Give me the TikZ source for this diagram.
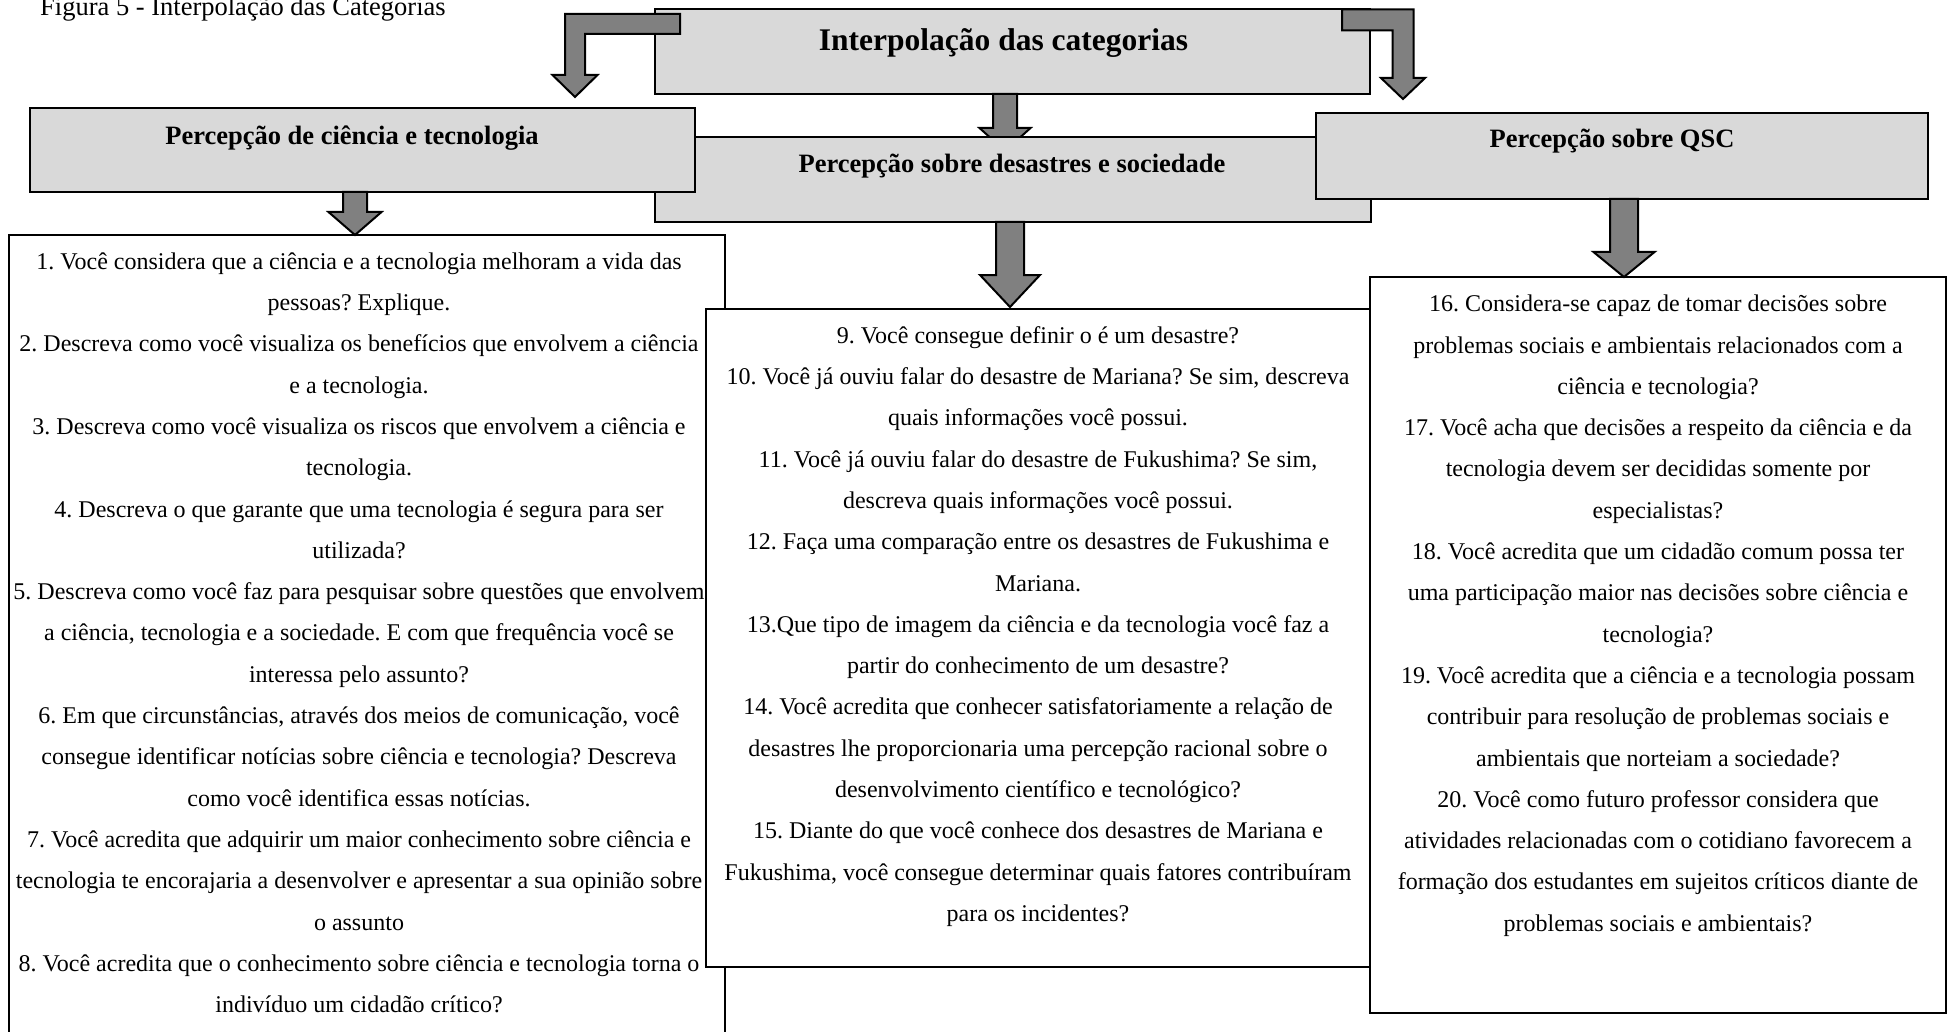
\documentclass[tikz,border=0pt]{standalone}
\usepackage{fontspec}
\setmainfont{Liberation Serif}
\usetikzlibrary{calc}
\definecolor{hdrgray}{HTML}{D9D9D9}
\definecolor{arrgray}{HTML}{808080}
\newcommand\blkdown[5]{%
  \path[blkarrow] let \p1=(#1), \p2=(#2) in
    ({\x2-#3pt},\y1) -- ({\x2+#3pt},\y1) -- ({\x2+#3pt},{\y2+#5pt}) -- ({\x2+#4pt},{\y2+#5pt})
    -- (\x2,\y2) -- ({\x2-#4pt},{\y2+#5pt}) -- ({\x2-#3pt},{\y2+#5pt}) -- cycle;}
\newcommand\blkbent[6]{%
  \path[blkarrow] let \p1=(#1), \p2=(#2) in
    (\x1,{\y1+#3pt}) -- ({\x2-(#6)*#3pt},{\y1+#3pt}) -- ({\x2-(#6)*#3pt},{\y2+#5pt}) -- ({\x2-(#6)*#4pt},{\y2+#5pt})
    -- (\x2,\y2) -- ({\x2+(#6)*#4pt},{\y2+#5pt}) -- ({\x2+(#6)*#3pt},{\y2+#5pt}) -- ({\x2+(#6)*#3pt},{\y1-#3pt})
    -- (\x1,{\y1-#3pt}) -- cycle;}
\begin{document}
\frenchspacing
\begin{tikzpicture}[x=1pt,y=-1pt,
  hdrbox/.style={draw=black, line width=2.6pt, fill=hdrgray, inner sep=0pt, outer sep=0pt},
  qbox/.style={draw=black, line width=2.6pt, fill=white, inner sep=0pt, outer sep=0pt},
  blkarrow/.style={draw=black, line width=2pt, fill=arrgray, line join=miter},
  hdrtext/.style={font=\fontsize{26.5}{30}\selectfont\bfseries, inner sep=0pt, anchor=base},
  titletext/.style={font=\fontsize{31.5}{36}\selectfont\bfseries, inner sep=0pt, anchor=base},
  captext/.style={font=\fontsize{26.5}{30}\selectfont, inner sep=0pt, anchor=base west},
  qtext/.style={font=\fontsize{24}{41.3}\selectfont\frenchspacing, align=center, inner sep=0pt, anchor=north},
]
\useasboundingbox (0,0) rectangle (1950,1032);
\clip (0,0) rectangle (1950,1032);

% top box
\node[hdrbox, minimum width=715pt, minimum height=85pt] (tb) at (1012.5,51.5) {};
% arrow top -> middle header (head partly hidden)
\coordinate (a0s) at (1005,0 |- tb.south);
\coordinate (a0t) at ($(1005,0 |- tb.south)+(0,57)$);
\blkdown{a0s}{a0t}{12}{25.5}{23}
% header row
\node[hdrbox, minimum width=716pt, minimum height=85pt] (hm) at (1013,179.5) {};
\node[hdrbox, minimum width=665pt, minimum height=84pt] (hl) at (362.5,150) {};
\node[hdrbox, minimum width=612pt, minimum height=86pt] (hr) at (1622,156) {};
% bent arrows
\coordinate (a2s) at ($(tb.north west)+(25,15)$);
\coordinate (a2t) at ($(575,0 |- hl.north)+(0,-11)$);
\blkbent{a2s}{a2t}{10}{22.5}{22}{1}
\coordinate (a3s) at ($(tb.north east)+(-28,11)$);
\coordinate (a3t) at ($(1403,0 |- hr.north)+(0,-14)$);
\blkbent{a3s}{a3t}{10.5}{22}{21}{-1}
% content boxes
\node[qbox, minimum width=716pt, minimum height=815pt] (cl) at (367,642.5) {};
\node[qbox, minimum width=665pt, minimum height=658pt] (cm) at (1038.5,638) {};
\node[qbox, minimum width=576pt, minimum height=736pt] (cr) at (1658,645) {};
% lower arrows
\coordinate (a4s) at (355,0 |- hl.south);
\coordinate (a4t) at (355,0 |- cl.north);
\blkdown{a4s}{a4t}{12}{26.5}{23}
\coordinate (a5s) at (1010,0 |- hm.south);
\coordinate (a5t) at ($(1010,0 |- cm.north)+(0,-2)$);
\blkdown{a5s}{a5t}{14}{30}{32}
\coordinate (a6s) at (1624,0 |- hr.south);
\coordinate (a6t) at (1624,0 |- cr.north);
\blkdown{a6s}{a6t}{14}{30.5}{25}

% texts
\node[captext] (cap) at (40,16) {Figura 5 - Interpolação das Categorias};
\node[titletext] (tbt) at (1003.5,51) {Interpolação das categorias};
\node[hdrtext] (hlt) at (352,145) {Percepção de ciência e tecnologia};
\node[hdrtext] (hmt) at (1012,173) {Percepção sobre desastres e sociedade};
\node[hdrtext] (hrt) at (1612,148) {Percepção sobre QSC};

\node[qtext] (clt) at (359,240.1) {\strut 1. Você considera que a ciência e a tecnologia melhoram a vida das\\
pessoas? Explique.\\
2. Descreva como você visualiza os benefícios que envolvem a ciência\\
e a tecnologia.\\
3. Descreva como você visualiza os riscos que envolvem a ciência e\\
tecnologia.\\
4. Descreva o que garante que uma tecnologia é segura para ser\\
utilizada?\\
5. Descreva como você faz para pesquisar sobre questões que envolvem\\
a ciência, tecnologia e a sociedade. E com que frequência você se\\
interessa pelo assunto?\\
6. Em que circunstâncias, através dos meios de comunicação, você\\
consegue identificar notícias sobre ciência e tecnologia? Descreva\\
como você identifica essas notícias.\\
7. Você acredita que adquirir um maior conhecimento sobre ciência e\\
tecnologia te encorajaria a desenvolver e apresentar a sua opinião sobre\\
o assunto\\
8. Você acredita que o conhecimento sobre ciência e tecnologia torna o\\
indivíduo um cidadão crítico?};

\node[qtext] (cmt) at (1038,314.1) {\strut 9. Você consegue definir o é um desastre?\\
10. Você já ouviu falar do desastre de Mariana? Se sim, descreva\\
quais informações você possui.\\
11. Você já ouviu falar do desastre de Fukushima? Se sim,\\
descreva quais informações você possui.\\
12. Faça uma comparação entre os desastres de Fukushima e\\
Mariana.\\
13.Que tipo de imagem da ciência e da tecnologia você faz a\\
partir do conhecimento de um desastre?\\
14. Você acredita que conhecer satisfatoriamente a relação de\\
desastres lhe proporcionaria uma percepção racional sobre o\\
desenvolvimento científico e tecnológico?\\
15. Diante do que você conhece dos desastres de Mariana e\\
Fukushima, você consegue determinar quais fatores contribuíram\\
para os incidentes?};

\node[qtext] (crt) at (1658,282.6) {\strut 16. Considera-se capaz de tomar decisões sobre\\
problemas sociais e ambientais relacionados com a\\
ciência e tecnologia?\\
17. Você acha que decisões a respeito da ciência e da\\
tecnologia devem ser decididas somente por\\
especialistas?\\
18. Você acredita que um cidadão comum possa ter\\
uma participação maior nas decisões sobre ciência e\\
tecnologia?\\
19. Você acredita que a ciência e a tecnologia possam\\
contribuir para resolução de problemas sociais e\\
ambientais que norteiam a sociedade?\\
20. Você como futuro professor considera que\\
atividades relacionadas com o cotidiano favorecem a\\
formação dos estudantes em sujeitos críticos diante de\\
problemas sociais e ambientais?};
\end{tikzpicture}
\end{document}
